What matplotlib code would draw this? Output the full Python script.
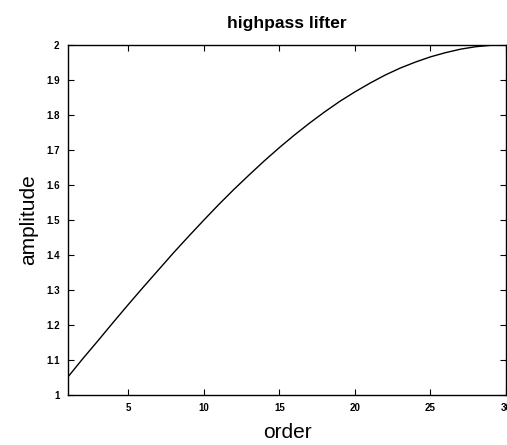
import matplotlib
matplotlib.use("Agg")
import matplotlib.pyplot as plt
import numpy as np

plt.rcParams['font.family'] = ['Liberation Sans', 'DejaVu Sans']

# values
order = list(range(1, 31))
amplitude = [1.052, 1.105, 1.156, 1.208, 1.259, 1.309, 1.358, 1.407, 1.454, 1.500,
             1.545, 1.588, 1.629, 1.669, 1.707, 1.743, 1.777, 1.809, 1.839, 1.866,
             1.891, 1.914, 1.934, 1.951, 1.966, 1.978, 1.988, 1.995, 1.999, 2.000]

x_ticks = [5, 10, 15, 20, 25, 30]
y_ticks = [1, 1.1, 1.2, 1.3, 1.4, 1.5, 1.6, 1.7, 1.8, 1.9, 2]
y_tick_labels = ["1", "1.1", "1.2", "1.3", "1.4", "1.5", "1.6", "1.7", "1.8", "1.9", "2"]

fig = plt.figure(figsize=(5.07, 4.45), dpi=100)
ax = fig.add_axes([0.134, 0.112, 0.864, 0.787])

ax.plot(order, amplitude, color="black", linewidth=1.0)

ax.set_xlim(1, 30)
ax.set_ylim(1, 2)
ax.set_xticks(x_ticks)
ax.set_yticks(y_ticks)
ax.set_yticklabels(y_tick_labels)
ax.tick_params(direction="in", top=True, right=True, length=4, width=0.8,
               labelsize=7, pad=6)
for label in ax.get_xticklabels() + ax.get_yticklabels():
    label.set_fontweight("bold")
for s in ax.spines.values():
    s.set_linewidth(1.0)

ax.set_title("highpass lifter", fontsize=12.5, fontweight="bold", pad=12)
ax.set_xlabel("order", fontsize=15, labelpad=7)
ax.set_ylabel("amplitude", fontsize=15, labelpad=6)

fig.savefig("out.png", dpi=100)
